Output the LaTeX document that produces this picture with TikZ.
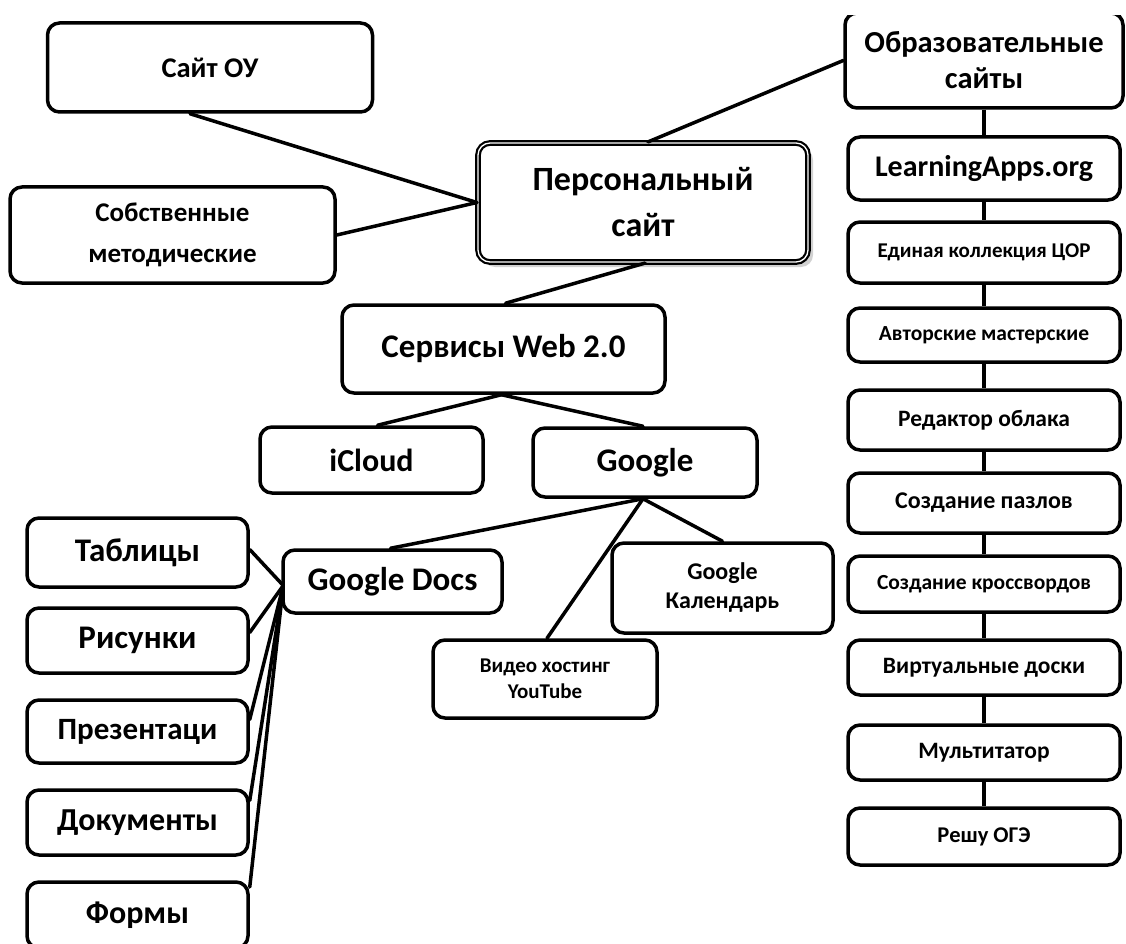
\documentclass[tikz,border=0pt]{standalone}
\usepackage{fontspec}
\setmainfont{Carlito}
\usetikzlibrary{calc}
\newcommand{\fsz}[2]{\fontsize{#1}{#2}\selectfont}
\tikzset{
  box/.style={draw=black, line width=3.5pt, rounded corners=12pt, fill=white,
              align=center, inner sep=0pt},
  fnt/.style 2 args={font=\bfseries\fsz{#1}{#2}},
  mainbox/.style={box, double=white, double distance=1.3pt, line width=2.2pt},
  conn/.style={line width=3.5pt, line cap=round},
}
\begin{document}
\begin{tikzpicture}[x=1pt,y=-1pt]
\useasboundingbox (0,0) rectangle (1126,944);

% top-left branch
\node[box, fnt={28.5}{32}, minimum width=325, minimum height=89] (sait) at (210,67.5) {Сайт ОУ};
\node[box, fnt={27}{41}, minimum width=325, minimum height=96] (sobst) at (172.5,235) {Собственные\\методические};
\fill[black!18, rounded corners=12pt] (483,148) rectangle (813,267);
\node[mainbox, fnt={34}{46}, minimum width=330, minimum height=119] (pers) at (643,202.5) {Персональный\\сайт};

% right column
\begin{scope}
  \clip (0,16) rectangle (1126,944);
  \node[box, fnt={30.5}{36}, minimum width=278, minimum height=95] (obr) at (984,60.5) {Образовательные\\сайты};
\end{scope}
\node[box, fnt={30}{36}, minimum width=272, minimum height=63] (la) at (984,168.5) {LearningApps.org};
\node[box, fnt={21}{24}, minimum width=272, minimum height=61] (edin) at (984,252.5) {Единая коллекция ЦОР};
\node[box, fnt={21.5}{24}, minimum width=272, minimum height=54] (avt) at (984,335) {Авторские мастерские};
\node[box, fnt={23.5}{26}, minimum width=272, minimum height=60] (red) at (984,420) {Редактор облака};
\node[box, fnt={24}{26}, minimum width=272, minimum height=60] (paz) at (984,503) {Создание пазлов};
\node[box, fnt={21.5}{24}, minimum width=272, minimum height=56] (kros) at (984,584) {Создание кроссвордов};
\node[box, fnt={23.5}{26}, minimum width=272, minimum height=55] (virt) at (984,667.5) {Виртуальные доски};
\node[box, fnt={23.5}{26}, minimum width=272, minimum height=55] (mult) at (984,752.5) {Мультитатор};
\node[box, fnt={22.5}{26}, minimum width=272, minimum height=57] (reshu) at (984,836.5) {Решу ОГЭ};

% middle
\node[box, fnt={33}{36}, minimum width=323, minimum height=88] (serv) at (503.5,349) {Сервисы Web 2.0};
\node[box, fnt={32}{34}, minimum width=223, minimum height=66] (icloud) at (371.5,460) {iCloud};
\node[box, fnt={33}{36}, minimum width=224, minimum height=69] (google) at (645,462.5) {Google};
\node[box, fnt={33}{36}, minimum width=219, minimum height=63] (gdocs) at (392.5,581.5) {Google Docs};
\node[box, fnt={24}{29}, minimum width=221, minimum height=90] (kal) at (722.5,588) {Google\\Календарь};
\node[box, fnt={21}{26}, minimum width=224, minimum height=78] (video) at (545,679) {Видео хостинг\\YouTube};

% left column
\node[box, fnt={33}{36}, minimum width=221, minimum height=69] (tabl) at (137.5,552.5) {Таблицы};
\node[box, fnt={33}{36}, minimum width=221, minimum height=65] (ris) at (137.5,640.5) {Рисунки};
\node[box, fnt={31}{36}, minimum width=221, minimum height=63] (prez) at (137.5,731.5) {Презентаци};
\node[box, fnt={32}{36}, minimum width=221, minimum height=65] (dok) at (137.5,822.5) {Документы};
\node[box, fnt={32}{36}, minimum width=221, minimum height=66] (form) at (137.5,915) {Формы};

% connectors
\coordinate (hub) at ($(gdocs.west)+(2,4)$);
\draw[conn] ($(sait.south)+(-20,0)$) -- (pers.west);
\draw[conn] (sobst.east) -- (pers.west);
\draw[conn] ($(pers.north)+(5,0)$) -- (obr.west);
\draw[conn] ($(pers.south)+(2,0)$) -- ($(serv.north)+(2,0)$);
\draw[conn] ($(serv.south)+(-2,0)$) -- ($(icloud.north)+(6,0)$);
\draw[conn] ($(serv.south)+(-2,0)$) -- ($(google.north)+(-2,0)$);
\draw[conn] ($(google.south)+(-2,0)$) -- ($(gdocs.north)+(-2,0)$);
\draw[conn] ($(google.south)+(-2,0)$) -- ($(video.north)+(2,0)$);
\draw[conn] ($(google.south)+(-2,0)$) -- (kal.north);
\draw[conn] (hub) -- ($(tabl.east)+(0,-3)$);
\draw[conn] (hub) -- ($(ris.east)+(0,-8)$);
\draw[conn] (hub) -- ($(prez.east)+(0,-12)$);
\draw[conn] (hub) -- ($(dok.east)+(0,-22)$);
\draw[conn] (hub) -- ($(form.east)+(0,-28)$);
\foreach \a/\b in {obr/la, la/edin, edin/avt, avt/red, red/paz, paz/kros, kros/virt, virt/mult, mult/reshu}
  \draw[line width=3.5pt] (\a.south) -- (\b.north);
\end{tikzpicture}
\end{document}
